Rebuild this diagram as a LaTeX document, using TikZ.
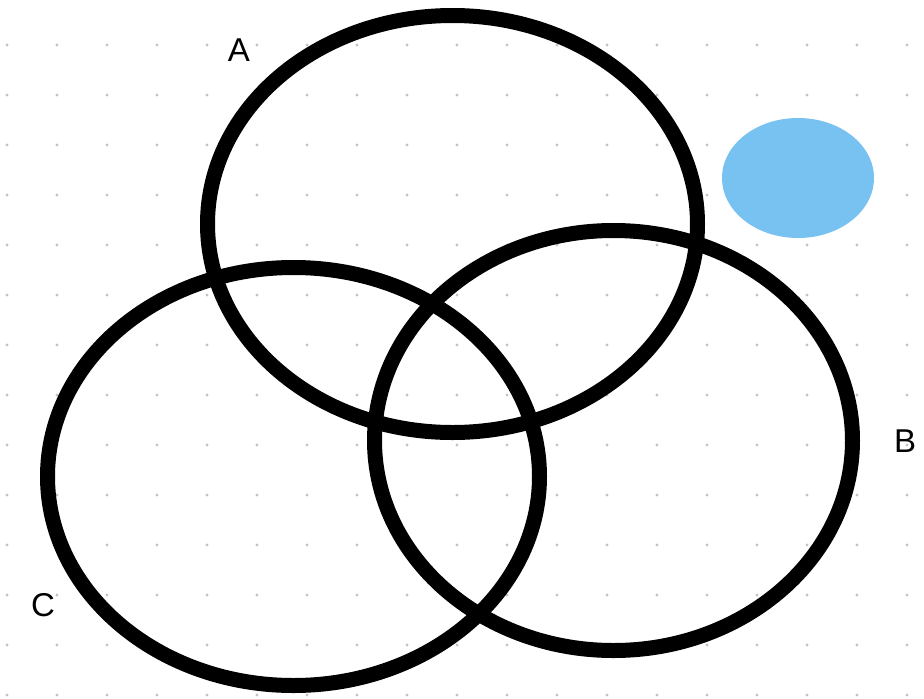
\documentclass[tikz,border=0pt]{standalone}
\usepackage{fontspec}
\setmainfont{Liberation Sans}
\usetikzlibrary{positioning}

\definecolor{dotgray}{HTML}{C4C4C4}
\definecolor{skyblue}{HTML}{77C2F1}

\begin{document}
\begin{tikzpicture}[x=1pt, y=-1pt,
    setring/.style={draw=black, line width=15pt},
    setlabel/.style={font=\fontsize{33}{38}\selectfont, inner sep=0pt}]
  \useasboundingbox[fill=white] (0,0) rectangle (924,699);
  % dot grid
  \foreach \i in {0,...,18} {
    \foreach \j in {0,...,13} {
      \fill[dotgray] (7+50*\i,45+50*\j) circle (1.6pt);
    }
  }
  % blue blob
  \fill[skyblue] (798,178) ellipse (76 and 60);
  % sets
  \draw[setring] (452.5,224) ellipse (245 and 208.5);
  \draw[setring] (613.5,440.5) ellipse (239 and 210);
  \draw[setring] (293.5,476.5) ellipse (246 and 209);
  % labels
  \node[setlabel] (labA) at (239,50) {A};
  \node[setlabel] (labB) at (905,441) {B};
  \node[setlabel] (labC) at (43,605) {C};
\end{tikzpicture}
\end{document}
